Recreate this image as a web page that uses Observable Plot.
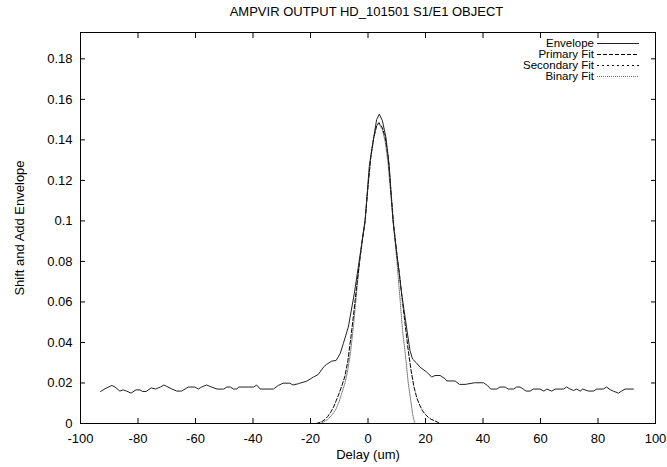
<!DOCTYPE html>
<html>
<head>
<meta charset="utf-8">
<script src="https://cdn.jsdelivr.net/npm/d3@7"></script>
<script src="https://cdn.jsdelivr.net/npm/@observablehq/plot@0.6"></script>
<style>
  body { margin: 0; background: #fff; }
  #wrap { position: relative; width: 667px; height: 467px; font-family: "Liberation Sans", Arial, sans-serif; }
  #title { position: absolute; left: 0; top: 5px; width: 733px; text-align: center; font-size: 13px; line-height: 13px; color: #000; white-space: nowrap; }
  #legend { position: absolute; left: 0; top: 0; pointer-events: none; }
</style>
</head>
<body>
<div id="wrap">
  <div id="chart"></div>
  <div id="title"></div>
  <svg id="legend" width="667" height="100"></svg>
</div>
<script>
const titleText = "AMPVIR OUTPUT HD_101501 S1/E1 OBJECT";
const xLabel = "Delay (um)";
const yLabel = "Shift and Add Envelope";
const xTicks = [-100, -80, -60, -40, -20, 0, 20, 40, 60, 80, 100];
const yTicks = [0, 0.02, 0.04, 0.06, 0.08, 0.1, 0.12, 0.14, 0.16, 0.18];
const seriesNames = ["Envelope", "Primary Fit", "Secondary Fit", "Binary Fit"];

const envelopeX = [-93.0,-91.5,-89.1,-88.0,-86.3,-85.2,-84.0,-82.4,-80.7,-79.3,-78.4,-77.2,-75.4,-73.9,-72.2,-71.0,-70.0,-68.3,-66.5,-64.8,-62.5,-60.2,-59.0,-57.9,-56.1,-55.0,-52.5,-50.2,-49.1,-47.9,-46.8,-45.6,-45.0,-39.8,-38.7,-37.5,-32.9,-31.2,-29.5,-27.2,-26.1,-24.3,-23.7,-21.3,-19.0,-17.3,-15.5,-14.4,-12.6,-11.1,-9.7,-8.6,-6.85,-4.77,-3.03,-1.0,0.45,1.85,3.0,3.93,5.0,6.26,7.4,8.7,10.3,11.7,13.6,14.6,15.5,16.8,18.1,20.4,22.2,23.3,25.1,26.8,27.4,30.3,31.8,33.8,37.0,40.2,41.5,42.7,44.8,45.9,47.7,48.8,50.6,51.7,52.9,54.0,55.0,56.4,57.5,59.8,61.2,62.2,63.9,65.1,68.0,69.1,70.3,71.5,72.6,73.8,74.7,76.7,78.4,79.6,81.8,83.0,84.2,85.3,87.1,88.2,89.4,92.3];
const envelopeY = [0.0158,0.0171,0.0188,0.0180,0.0160,0.0166,0.0160,0.0150,0.0166,0.0166,0.0158,0.0158,0.0176,0.0170,0.0180,0.0190,0.0183,0.0171,0.0160,0.0160,0.0180,0.0180,0.0170,0.0180,0.0190,0.0183,0.0170,0.0170,0.0180,0.0180,0.0170,0.0170,0.0180,0.0180,0.0190,0.0170,0.0170,0.0188,0.0199,0.0199,0.0190,0.0196,0.0199,0.0209,0.0229,0.0242,0.0278,0.0292,0.0308,0.0311,0.0344,0.0394,0.0476,0.0641,0.0806,0.1000,0.1270,0.1400,0.1500,0.1527,0.1495,0.1410,0.1270,0.1000,0.0806,0.0641,0.0456,0.0361,0.0318,0.0300,0.0278,0.0254,0.0229,0.0237,0.0237,0.0221,0.0210,0.0210,0.0193,0.0193,0.0201,0.0201,0.0188,0.0170,0.0170,0.0180,0.0180,0.0170,0.0170,0.0180,0.0180,0.0170,0.0160,0.0160,0.0170,0.0170,0.0160,0.0170,0.0160,0.0170,0.0170,0.0180,0.0170,0.0163,0.0170,0.0160,0.0170,0.0160,0.0160,0.0170,0.0170,0.0180,0.0167,0.0160,0.0150,0.0160,0.0170,0.0170];

const primaryX = [-18,-17,-16,-15,-14,-13,-12,-11,-10,-9,-8,-7,-6,-5,-4,-3,-2,-1,0,1,2,3,3.8,5,6,7,8,9,10,11,12,13,14,15,16,17,18,19,20,21,22,23,24,25];
const primaryY = [0,0.0004,0.001,0.002,0.0035,0.0055,0.008,0.0115,0.015,0.019,0.0235,0.031,0.042,0.054,0.067,0.079,0.090,0.100,0.117,0.132,0.141,0.147,0.1485,0.146,0.141,0.132,0.114,0.097,0.084,0.073,0.060,0.048,0.036,0.026,0.018,0.0125,0.009,0.0062,0.0044,0.003,0.002,0.0015,0.0008,0];

const secondaryX = [-18, 25];
const secondaryY = [0, 0];

const binaryX = [-16.5,-15.5,-14,-13,-12,-11,-10,-9,-8,-7,-6,-5,-4,-3,-2,-1,0,1,2,3,3.8,5,6,7,8,9,10,11,12,13,14,15,15.5,16,16.4];
const binaryY = [0,0.0007,0.002,0.0035,0.0052,0.0075,0.011,0.0155,0.020,0.0265,0.036,0.049,0.064,0.079,0.091,0.101,0.117,0.132,0.141,0.147,0.148,0.145,0.139,0.128,0.112,0.096,0.081,0.064,0.046,0.034,0.020,0.010,0.0048,0.0015,0];

const toRows = (xs, ys) => xs.map((x, i) => ({x, y: ys[i]}));
const fmt = d => String(+d.toFixed(2));

const chart = Plot.plot({
  width: 667,
  height: 467,
  marginLeft: 80,
  marginRight: 12,
  marginTop: 32,
  marginBottom: 44,
  style: {fontFamily: "'Liberation Sans', Arial, sans-serif", fontSize: "13px", background: "#fff", color: "#000"},
  x: {domain: [-100, 100]},
  y: {domain: [0, 0.193]},
  marks: [
    Plot.axisX(xTicks, {anchor: "bottom", tickSize: 0, tickPadding: 10, tickFormat: fmt, label: xLabel, labelAnchor: "center", labelOffset: 35, labelArrow: "none"}),
    Plot.axisX(xTicks, {anchor: "bottom", tickSize: -5, tickFormat: () => "", label: null}),
    Plot.axisX(xTicks, {anchor: "top", tickSize: -5, tickFormat: () => "", label: null}),
    Plot.axisY(yTicks, {anchor: "left", tickSize: 0, tickPadding: 8, tickFormat: fmt, label: yLabel, labelAnchor: "center", labelOffset: 66, labelArrow: "none"}),
    Plot.axisY(yTicks, {anchor: "left", tickSize: -5, tickFormat: () => "", label: null}),
    Plot.axisY(yTicks, {anchor: "right", tickSize: -5, tickFormat: () => "", label: null}),
    Plot.line(toRows(secondaryX, secondaryY), {x: "x", y: "y", stroke: "#000", strokeWidth: 1, strokeDasharray: "2,3"}),
    Plot.line(toRows(binaryX, binaryY), {x: "x", y: "y", stroke: "#777", strokeWidth: 1, strokeDasharray: "1,1"}),
    Plot.line(toRows(primaryX, primaryY), {x: "x", y: "y", stroke: "#000", strokeWidth: 1, strokeDasharray: "4,2"}),
    Plot.line(toRows(envelopeX, envelopeY), {x: "x", y: "y", stroke: "#222", strokeWidth: 1}),
    Plot.frame({stroke: "#000", strokeWidth: 1})
  ]
});
document.getElementById("chart").appendChild(chart);
document.getElementById("title").textContent = titleText;

// legend
const legendStyles = [
  {stroke: "#222", dash: null},
  {stroke: "#000", dash: "4,2"},
  {stroke: "#000", dash: "2,3"},
  {stroke: "#777", dash: "1,1"}
];
const lg = d3.select("#legend");
seriesNames.forEach((name, i) => {
  const cy = 43 + i * 11;
  lg.append("text")
    .attr("x", 594).attr("y", cy + 4)
    .attr("text-anchor", "end")
    .attr("font-family", "'Liberation Sans', Arial, sans-serif")
    .attr("font-size", 11.5)
    .attr("fill", "#000")
    .text(name);
  const ln = lg.append("line")
    .attr("x1", 597).attr("x2", 639)
    .attr("y1", cy + 0.5).attr("y2", cy + 0.5)
    .attr("stroke", legendStyles[i].stroke)
    .attr("stroke-width", 1);
  if (legendStyles[i].dash) ln.attr("stroke-dasharray", legendStyles[i].dash);
});
</script>
</body>
</html>
